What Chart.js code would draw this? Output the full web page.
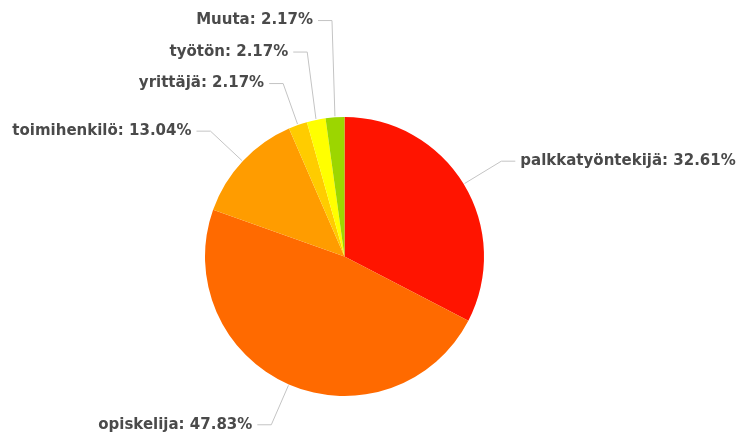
<!DOCTYPE html>
<html>
<head>
<meta charset="utf-8">
<script src="https://cdn.jsdelivr.net/npm/chart.js@4"></script>
<style>
    body { margin: 0; background: #fff; }
    #chart { display: block; }
</style>
</head>
<body>
<canvas id="chart" width="738" height="436"></canvas>
<script>
const categories = ['palkkatyöntekijä', 'opiskelija', 'toimihenkilö', 'yrittäjä', 'työtön', 'Muuta'];
const shares = [32.61, 47.83, 13.04, 2.17, 2.17, 2.17];
const sliceColors = ['#ff1400', '#ff6a00', '#ff9c00', '#ffcc00', '#ffff00', '#9cd600'];

// outside labels with leader lines, stacked so they don't overlap
const leaderLabels = {
    id: 'leaderLabels',
    afterDatasetsDraw(chart) {
        const ctx = chart.ctx;
        const meta = chart.getDatasetMeta(0);
        const items = [];

        meta.data.forEach((arc, i) => {
            const p = arc.getProps(['x', 'y', 'outerRadius', 'startAngle', 'endAngle'], true);
            const mid = (p.startAngle + p.endAngle) / 2;
            const cos = Math.cos(mid), sin = Math.sin(mid);
            items.push({
                text: categories[i] + ': ' + shares[i].toFixed(2) + '%',
                right: cos >= 0,
                sx: p.x + cos * (p.outerRadius + 1),
                sy: p.y + sin * (p.outerRadius + 1),
                ex: p.x + cos * (p.outerRadius + 44),
                ey: p.y + sin * (p.outerRadius + 44)
            });
        });

        // push labels upward when they crowd each other
        const gap = 31.5;
        [true, false].forEach(side => {
            const group = items.filter(it => it.right === side).sort((a, b) => b.ey - a.ey);
            for (let k = 1; k < group.length; k++) {
                if (group[k].ey > group[k - 1].ey - gap) {
                    group[k].ey = group[k - 1].ey - gap;
                }
            }
        });

        ctx.save();
        ctx.font = 'bold 15px "DejaVu Sans"';
        ctx.textBaseline = 'middle';
        items.forEach(it => {
            const dir = it.right ? 1 : -1;
            ctx.strokeStyle = '#c4c4c4';
            ctx.lineWidth = 1;
            ctx.beginPath();
            ctx.moveTo(it.sx, it.sy);
            ctx.lineTo(it.ex, it.ey);
            ctx.lineTo(it.ex + dir * 14, it.ey);
            ctx.stroke();

            ctx.fillStyle = '#4a4a4a';
            ctx.textAlign = it.right ? 'left' : 'right';
            ctx.fillText(it.text, it.ex + dir * 19, it.ey);
        });
        ctx.restore();
    }
};

new Chart(document.getElementById('chart'), {
    type: 'pie',
    data: {
        labels: categories,
        datasets: [{
            data: shares,
            backgroundColor: sliceColors,
            borderWidth: 0
        }]
    },
    options: {
        responsive: false,
        animation: false,
        devicePixelRatio: 1,
        layout: {
            padding: { top: 117, bottom: 40, left: 205, right: 254 }
        },
        plugins: {
            legend: { display: false },
            tooltip: { enabled: false }
        }
    },
    plugins: [leaderLabels]
});
</script>
</body>
</html>
